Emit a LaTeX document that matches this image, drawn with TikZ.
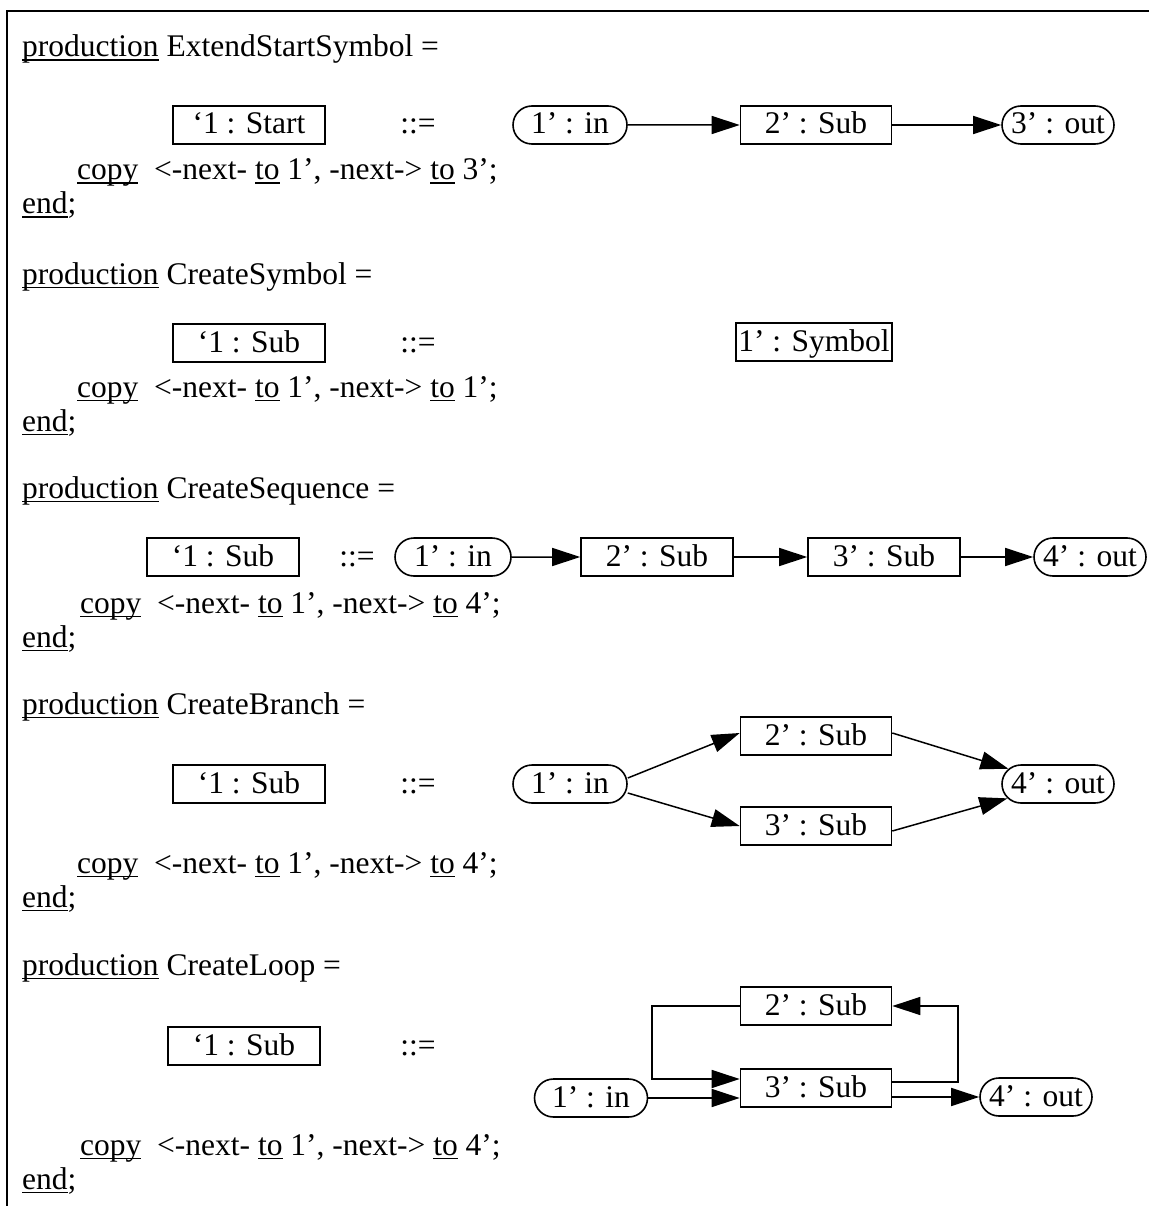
\documentclass[tikz,border=0pt]{standalone}
\usepackage{fontspec}
\setmainfont{Liberation Serif}
\usetikzlibrary{shapes.misc,arrows.meta}
\newsavebox\ulbox
\newcommand\ulx[1]{\sbox\ulbox{#1}\rlap{\rule[-4pt]{\wd\ulbox}{1.5pt}}\usebox\ulbox}
\begin{document}
\begin{tikzpicture}[x=1pt,y=-1pt,
  base/.style={font=\fontsize{31.5}{36}\selectfont, inner sep=0pt},
  txt/.style={base, anchor=base west},
  sym/.style={base, text height=21pt, text depth=3pt},
  obj/.style={base, draw, line width=1.6pt, minimum height=38pt, text height=21pt, text depth=3pt},
  pill/.style={obj, rounded rectangle},
  arr/.style={line width=1.5pt, -{Triangle[length=28pt,width=18pt]}}
]
\useasboundingbox (0,0) rectangle (1149,1206);
\draw[line width=2pt] (1149,11.5) -- (6.5,11.5) -- (6.5,1206);

% ExtendStartSymbol
\node[txt] (p1) at (22,57) {\ulx{production} ExtendStartSymbol =};
\node[obj, minimum width=152pt] (s1) at (249,125) {‘1 : Start};
\node[sym] (d1) at (418,125) {::=};
\node[pill, minimum width=114pt] (in1) at (570,125) {1’ : in};
\node[obj, minimum width=151pt] (a1) at (816,125) {2’ : Sub};
\node[pill, minimum width=112pt] (o1) at (1058,125) {3’ : out};
\draw[arr] (in1) -- (a1);
\draw[arr] (a1) -- (o1);
\node[txt] (c1) at (77,180) {\ulx{copy}~ <-next- \ulx{to} 1’, -next-> \ulx{to} 3’;};
\node[txt] (e1) at (22,214) {\ulx{end};};

% CreateSymbol
\node[txt] (p2) at (22,284) {\ulx{production} CreateSymbol =};
\node[obj, minimum width=152pt] (s2) at (249,343) {‘1 : Sub};
\node[sym] (d2) at (418,343) {::=};
\node[obj, minimum width=156pt] (y2) at (814,342) {1’ : Symbol};
\node[txt] (c2) at (77,397) {\ulx{copy}~ <-next- \ulx{to} 1’, -next-> \ulx{to} 1’;};
\node[txt] (e2) at (22,431) {\ulx{end};};

% CreateSequence
\node[txt] (p3) at (22,498) {\ulx{production} CreateSequence =};
\node[obj, minimum width=152pt] (s3) at (223,557) {‘1 : Sub};
\node[sym] (d3) at (357,557) {::=};
\node[pill, minimum width=116pt] (in3) at (453,557) {1’ : in};
\node[obj, minimum width=152pt] (a3) at (657,557) {2’ : Sub};
\node[obj, minimum width=152pt] (b3) at (884,557) {3’ : Sub};
\node[pill, minimum width=112pt] (o3) at (1090,557) {4’ : out};
\draw[arr] (in3) -- (a3);
\draw[arr] (a3) -- (b3);
\draw[arr] (b3) -- (o3);
\node[txt] (c3) at (80,613) {\ulx{copy}~ <-next- \ulx{to} 1’, -next-> \ulx{to} 4’;};
\node[txt] (e3) at (22,647) {\ulx{end};};

% CreateBranch
\node[txt] (p4) at (22,714) {\ulx{production} CreateBranch =};
\node[obj, minimum width=152pt] (s4) at (249,784) {‘1 : Sub};
\node[sym] (d4) at (418,784) {::=};
\node[pill, minimum width=114pt] (in4) at (570,784) {1’ : in};
\node[obj, minimum width=151pt] (a4) at (816,736) {2’ : Sub};
\node[obj, minimum width=151pt] (b4) at (816,826) {3’ : Sub};
\node[pill, minimum width=112pt] (o4) at (1058,784) {4’ : out};
\draw[arr] ([yshift=6pt]in4.east) -- ([yshift=3pt]a4.west);
\draw[arr] ([yshift=-9pt]in4.east) -- (b4.west);
\draw[arr] ([yshift=3pt]a4.east) -- (o4);
\draw[arr] ([yshift=-5pt]b4.east) -- (o4);
\node[txt] (c4) at (77,873) {\ulx{copy}~ <-next- \ulx{to} 1’, -next-> \ulx{to} 4’;};
\node[txt] (e4) at (22,907) {\ulx{end};};

% CreateLoop
\node[txt] (p5) at (22,975) {\ulx{production} CreateLoop =};
\node[obj, minimum width=152pt] (s5) at (244,1046) {‘1 : Sub};
\node[sym] (d5) at (418,1046) {::=};
\node[pill, minimum width=113pt] (in5) at (591,1098) {1’ : in};
\node[obj, minimum width=151pt] (a5) at (816,1006) {2’ : Sub};
\node[obj, minimum width=151pt] (b5) at (816,1088) {3’ : Sub};
\node[pill, minimum width=112pt] (o5) at (1036,1097) {4’ : out};
\coordinate (lv) at (652,1000);
\coordinate (rv) at (958,1000);
\draw[arr] (a5.west) -- (a5.west -| lv) |- ([yshift=9pt]b5.west);
\draw[arr] (in5.east) -- (in5.east -| b5.west);
\draw[arr] ([yshift=6pt]b5.east) -- ([yshift=6pt]b5.east -| rv) |- (a5.east);
\draw[arr] (o5.west -| b5.east) -- (o5.west);
\node[txt] (c5) at (80,1155) {\ulx{copy}~ <-next- \ulx{to} 1’, -next-> \ulx{to} 4’;};
\node[txt] (e5) at (22,1189) {\ulx{end};};
\end{tikzpicture}
\end{document}
